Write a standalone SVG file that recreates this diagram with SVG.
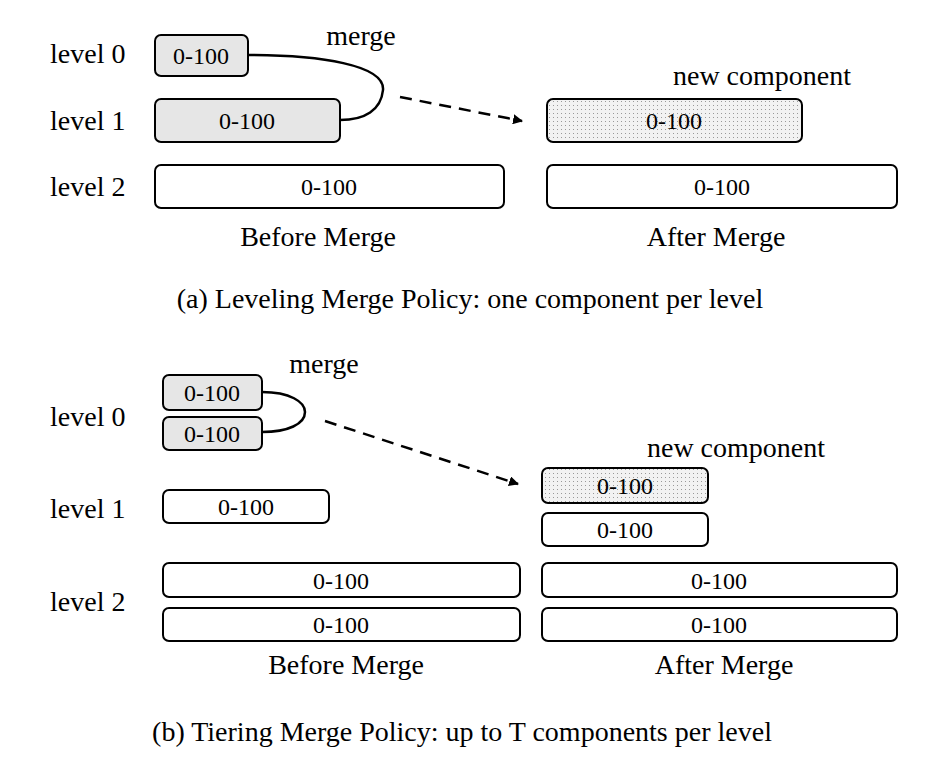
<svg xmlns="http://www.w3.org/2000/svg" width="940" height="762" viewBox="0 0 940 762">
<defs>
<pattern id="dots" width="4" height="4" patternUnits="userSpaceOnUse"><rect width="4" height="4" fill="#f2f2f2"/><rect x="1" y="1" width="1" height="1" fill="#999"/></pattern>
<marker id="ah" markerWidth="10" markerHeight="10" refX="9" refY="5" orient="auto" markerUnits="userSpaceOnUse"><path d="M0,0 L10,5 L0,10 z" fill="#000"/></marker>
</defs>
<style>
text{font-family:"Liberation Serif",serif;font-size:28px;fill:#000}
.b{font-size:24px;text-anchor:middle}
.m{text-anchor:middle}
rect.n{fill:#fff;stroke:#000;stroke-width:2}
rect.g{fill:#e6e6e6;stroke:#000;stroke-width:2}
rect.d{fill:url(#dots);stroke:#000;stroke-width:2}
.c{fill:none;stroke:#000;stroke-width:2.5}
.ds{fill:none;stroke:#000;stroke-width:2.5;stroke-dasharray:12,8}
</style>
<rect width="940" height="762" fill="#fff"/>
<g id="labels-a">
<text x="50" y="63">level 0</text><text x="50" y="130">level 1</text><text x="50" y="196">level 2</text>
<text x="361" y="45" class="m">merge</text>
<text x="762" y="85" class="m">new component</text>
<text x="318" y="246" class="m">Before Merge</text>
<text x="716" y="246" class="m">After Merge</text>
<text x="470" y="308" class="m">(a) Leveling Merge Policy: one component per level</text>
</g>
<g id="a-l0"><rect class="g" x="155" y="35" width="93" height="41" rx="6"/><text class="b" x="201" y="64">0-100</text></g>
<g id="a-l1"><rect class="g" x="155" y="99" width="185" height="43" rx="6"/><text class="b" x="247" y="129">0-100</text></g>
<g id="a-l2"><rect class="n" x="155" y="165" width="349" height="43" rx="6"/><text class="b" x="329" y="195">0-100</text></g>
<g id="a-new"><rect class="d" x="547" y="99" width="255" height="43" rx="6"/><text class="b" x="674" y="129">0-100</text></g>
<g id="a-after-l2"><rect class="n" x="547" y="165" width="350" height="43" rx="6"/><text class="b" x="722" y="195">0-100</text></g>
<g id="labels-b">
<text x="50" y="426">level 0</text><text x="50" y="518">level 1</text><text x="50" y="611">level 2</text>
<text x="324" y="373" class="m">merge</text>
<text x="736" y="457" class="m">new component</text>
<text x="346" y="674" class="m">Before Merge</text>
<text x="724" y="674" class="m">After Merge</text>
<text x="462" y="741" class="m">(b) Tiering Merge Policy: up to T components per level</text>
</g>
<g id="b-l0a"><rect class="g" x="163" y="375" width="99" height="35" rx="6"/><text class="b" x="212" y="401">0-100</text></g>
<g id="b-l0b"><rect class="g" x="163" y="417" width="99" height="33" rx="6"/><text class="b" x="212" y="442">0-100</text></g>
<g id="b-l1"><rect class="n" x="163" y="490" width="166" height="33" rx="6"/><text class="b" x="246" y="515">0-100</text></g>
<g id="b-l2a"><rect class="n" x="163" y="563" width="357" height="34" rx="6"/><text class="b" x="341" y="589">0-100</text></g>
<g id="b-l2b"><rect class="n" x="163" y="608" width="357" height="33" rx="6"/><text class="b" x="341" y="633">0-100</text></g>
<g id="b-new"><rect class="d" x="542" y="468" width="166" height="35" rx="6"/><text class="b" x="625" y="494">0-100</text></g>
<g id="b-a-l1"><rect class="n" x="542" y="513" width="166" height="33" rx="6"/><text class="b" x="625" y="538">0-100</text></g>
<g id="b-a-l2a"><rect class="n" x="542" y="563" width="355" height="34" rx="6"/><text class="b" x="719" y="589">0-100</text></g>
<g id="b-a-l2b"><rect class="n" x="542" y="608" width="355" height="33" rx="6"/><text class="b" x="719" y="633">0-100</text></g>
<g id="connectors">
<path class="c" d="M248,55 C320,55 385,65 383,90 C381,110 365,120 340,120"/>
<path class="ds" d="M400,97 L522,121" marker-end="url(#ah)"/>
<path class="c" d="M262,392 C290,392 305,402 305,412 C305,424 288,432 262,432"/>
<path class="ds" d="M325,421 L518,484" marker-end="url(#ah)"/>
</g>
</svg>
